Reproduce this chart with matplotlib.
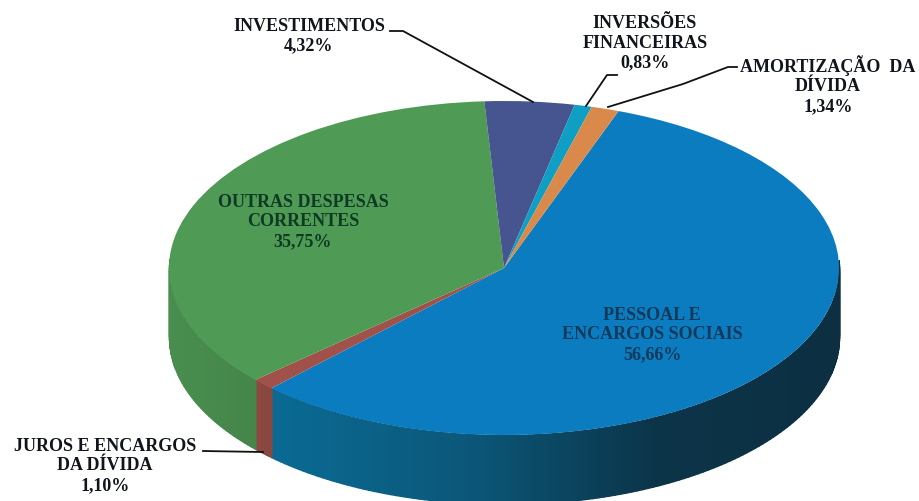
import numpy as np
import matplotlib
matplotlib.use("Agg")
import matplotlib.pyplot as plt
from matplotlib.colors import to_rgb

categories = ["PESSOAL E\nENCARGOS SOCIAIS", "JUROS E ENCARGOS\nDA DÍVIDA", "OUTRAS DESPESAS\nCORRENTES",
              "INVESTIMENTOS", "INVERSÕES\nFINANCEIRAS", "AMORTIZAÇÃO  DA\nDÍVIDA"]
values = [56.66, 1.10, 35.75, 4.32, 0.83, 1.34]
value_labels = ["56,66%", "1,10%", "35,75%", "4,32%", "0,83%", "1,34%"]
colors = ["#0a7cbf", "#a0524a", "#4f9a55", "#46558f", "#0f9fc4", "#d9894a"]
text_colors = ["#12395a", "#10141c", "#0e3a24", "#10141c", "#10141c", "#10141c"]

W, H = 919, 502
CX, CY, RX, RY, DEPTH = 504, 269, 335, 167, 69
START = 70


def px(x, y):
    return (x - CX) / RX, (CY - y) / RY


fig = plt.figure(figsize=(W / 100, H / 100), dpi=100, facecolor="white")
ax = fig.add_axes([0, 0, 1, 1])
plt.rcParams["font.family"] = ["Liberation Serif", "DejaVu Serif"]

# side wall, shaded from light on the left to dark on the right
d = DEPTH / RY
edges = START - np.cumsum([0] + values) * 3.6
for val, col, a0, a1 in zip(values, colors, edges[:-1], edges[1:]):
    n = max(int(abs(a0 - a1)), 2)
    t = np.radians(np.linspace(a0, a1, n + 1))
    for i in range(n):
        tm = 0.5 * (t[i] + t[i + 1])
        if np.sin(tm) > 0.05:
            continue
        x = np.cos([t[i], t[i + 1]])
        y = np.sin([t[i], t[i + 1]])
        f = np.interp(np.cos(tm), [-1, -0.7, -0.1, 0.45, 1], [0.92, 0.86, 0.7, 0.42, 0.38])
        shade = np.array(to_rgb(col)) * f
        if col == colors[0]:
            shade = shade * np.array([1, 1, 0.9]) + np.array([0.05, 0.0, 0.0]) * (1 - f)
        order = np.argsort(x)
        ax.fill_between(x[order], y[order], y[order] - d, facecolor=shade, edgecolor=shade,
                        lw=1.0, zorder=1)

ax.pie(values, colors=colors, startangle=START, counterclock=False, radius=1,
       wedgeprops=dict(linewidth=0))
for p in ax.patches:
    p.set_zorder(2)
ax.set_aspect("auto")
ax.set_xlim(-CX / RX, (W - CX) / RX)
ax.set_ylim((CY - H) / RY, CY / RY)
ax.axis("off")

label_pos = [(652, 335), (105, 466), (303, 222), (309, 36), (645, 43), (828, 85)]
for name, v, tc, (lx, ly) in zip(categories, value_labels, text_colors, label_pos):
    ax.text(*px(lx, ly), f"{name}\n{v}", ha="center", va="center", multialignment="center",
            fontsize=13, fontweight="bold", color=tc, linespacing=1.2, zorder=5,
            family=["Liberation Serif", "DejaVu Serif"])

leaders = [
    [(390, 32), (403, 32), (533, 103)],
    [(617, 76), (607, 76), (586, 107)],
    [(737, 68), (728, 68), (683, 85), (608, 108)],
    [(203, 452), (263, 453)],
]
for pts in leaders:
    xs, ys = zip(*[px(*q) for q in pts])
    ax.plot(xs, ys, color="#111111", lw=1.3, zorder=6)

fig.savefig("out.png", dpi=100, facecolor="white")
